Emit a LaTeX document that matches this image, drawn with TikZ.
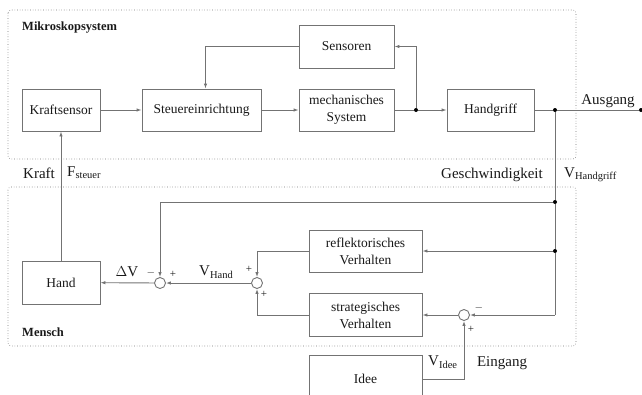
\documentclass[tikz,border=0pt]{standalone}
\usepackage{fontspec}
\setmainfont{Liberation Serif}
\usetikzlibrary{arrows.meta}

\definecolor{linegray}{gray}{0.45}
\definecolor{textgray}{gray}{0.1}

\begin{document}
\begin{tikzpicture}[x=1pt, y=-1pt,
  block/.style={draw=linegray, line width=0.9pt, minimum height=42pt, inner sep=0pt,
    align=center, text=textgray, font=\fontsize{13.5}{17}\selectfont},
  sum/.style={circle, draw=linegray, line width=0.9pt, minimum size=11pt, inner sep=0pt},
  dot/.style={circle, fill=black, minimum size=4pt, inner sep=0pt},
  conn/.style={draw=linegray, line width=0.9pt},
  arr/.style={conn, -{Latex[length=5pt,width=3.5pt]}},
  frame/.style={draw=linegray, dotted, line width=0.6pt, rounded corners=3pt},
  lbl/.style={text=textgray, inner sep=0pt, font=\fontsize{15}{17}\selectfont},
  title/.style={text=textgray, inner sep=0pt, anchor=west, font=\fontsize{12.5}{15}\selectfont\bfseries},
  sign/.style={text=textgray, inner sep=0pt, font=\fontsize{11}{12}\selectfont}]

  \useasboundingbox (0,0) rectangle (642,394);
  \clip (0,0) rectangle (642,394);

  % Frames
  \draw[frame] (8,10) rectangle (576,159);
  \draw[frame] (8,187) rectangle (576,346);
  \node[title] (mikro) at (22,28) {Mikroskopsystem};
  \node[title] (mensch) at (22,332) {Mensch};

  % Mikroskopsystem blocks
  \node[block, minimum width=78pt] (kraft) at (61,110) {Kraftsensor};
  \node[block, minimum width=119pt] (steuer) at (201.5,110) {Steuereinrichtung};
  \node[block, minimum width=95pt] (mech) at (346.5,110) {mechanisches\\System};
  \node[block, minimum width=95pt, minimum height=43pt] (sensoren) at (346.5,46.5) {Sensoren};
  \node[block, minimum width=87pt] (handgriff) at (490.5,110) {Handgriff};

  % Mensch blocks
  \node[block, minimum width=78pt, minimum height=43pt] (hand) at (61,282.5) {Hand};
  \node[block, minimum width=113pt] (refl) at (365.5,251) {reflektorisches\\Verhalten};
  \node[block, minimum width=113pt, minimum height=43pt] (strat) at (365.5,315) {strategisches\\Verhalten};
  \node[block, minimum width=113pt, minimum height=48pt] (idee) at (365.5,379) {Idee};

  % Summing points
  \node[sum] (s1) at (160,283) {};
  \node[sum] (s2) at (257,283) {};
  \node[sum] (s3) at (464,315) {};

  % Branch points
  \node[dot] (d1) at (416,110) {};
  \node[dot] (d2) at (555,110) {};
  \node[dot] (d3) at (555,202) {};
  \node[dot] (d4) at (555,251) {};
  \node[dot] (dend) at (641,110) {};
  \coordinate (corner) at (555,315);

  % Signs
  \node[sign] (m1) at (151,273) {$-$};
  \node[sign] (p1) at (173,274) {+};
  \node[sign] (p2a) at (249,269) {+};
  \node[sign] (p2b) at (264,294) {+};
  \node[sign] (m3) at (479,308) {$-$};
  \node[sign] (p3) at (471,329) {+};

  % Labels
  \node[lbl] (ausgang) at (608,101) {Ausgang};
  \node[lbl] (kraftlbl) at (39,173) {Kraft};
  \node[lbl, anchor=west] (fsteuer) at (67,173) {F\textsubscript{steuer}};
  \node[lbl] (geschw) at (492,175) {Geschwindigkeit};
  \node[lbl, anchor=west] (vgriff) at (564,175) {V\textsubscript{Handgriff}};
  \node[lbl] (dv) at (127,272) {$\Delta$V};
  \node[lbl, anchor=west] (vhand) at (199,272) {V\textsubscript{Hand}};
  \node[lbl, anchor=west] (videe) at (428,362) {V\textsubscript{Idee}};
  \node[lbl] (eingang) at (502,363) {Eingang};

  % Connections
  \draw[arr] (kraft) -- (steuer);
  \draw[arr] (steuer) -- (mech);
  \draw[conn] (mech) -- (d1);
  \draw[arr] (d1) -- (handgriff);
  \draw[arr] (d1) |- (sensoren);
  \draw[arr] (sensoren.west) -| ([xshift=4pt]steuer.north);
  \draw[conn] (handgriff) -- (d2) -- (dend);
  \draw[conn] (d2) -- (d3) -- (d4) -- (corner);
  \draw[arr] (corner) -- (s3);
  \draw[arr] (s3) -- (strat);
  \draw[arr] (d4) -- (refl);
  \draw[arr] (d3) -| (s1);
  \draw[arr] (s1) -- (hand);
  \draw[arr] (s2) -- (s1);
  \draw[arr] (refl) -| (s2);
  \draw[arr] (strat) -| (s2);
  \draw[arr] (idee) -| (s3);
  \draw[arr] (hand) -- (kraft);

\end{tikzpicture}
\end{document}
